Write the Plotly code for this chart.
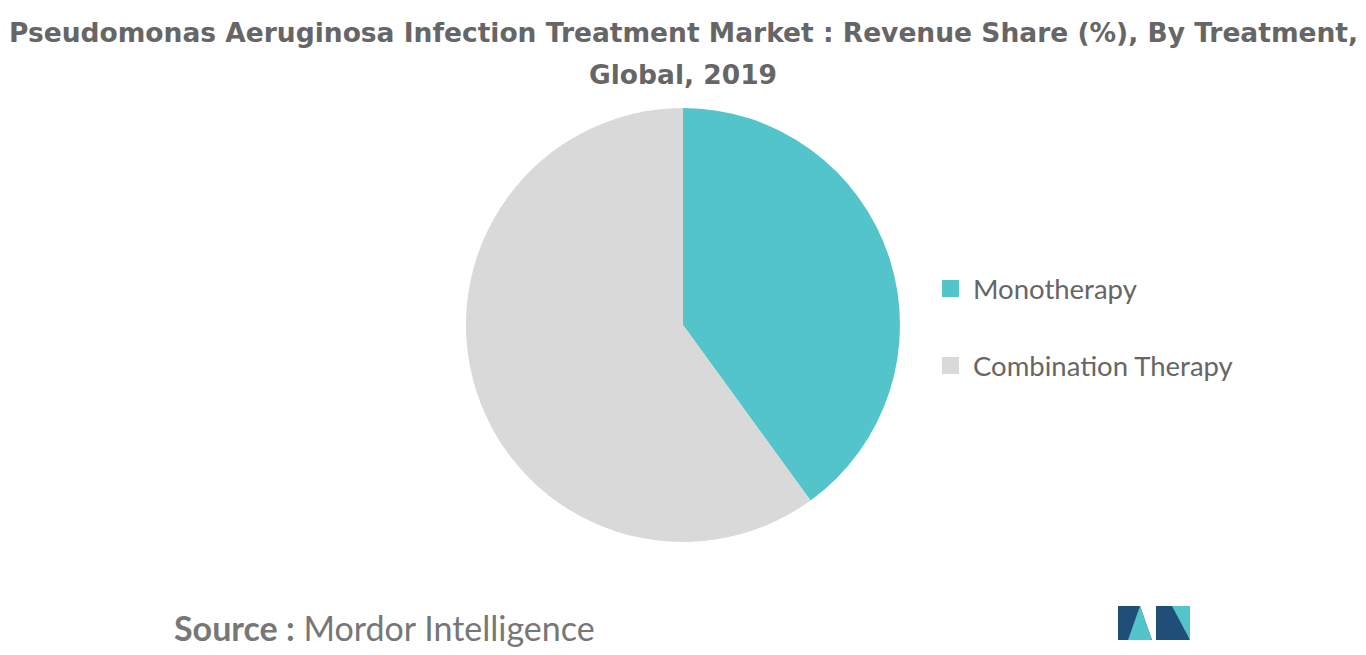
import plotly.graph_objects as go

categories = ["Monotherapy", "Combination Therapy"]
values = [40, 60]
colors = ["#53C4CA", "#D9D9D9"]

W, H = 1366, 655
OFF = 8
def px(x): return (x - OFF) / W
def py(y): return 1 - (y - OFF) / H

fig = go.Figure(go.Pie(
    labels=categories, values=values, sort=False, direction="clockwise", rotation=0,
    marker=dict(colors=colors), textinfo="none", hoverinfo="label+percent",
    domain=dict(x=[px(466), px(900)], y=[py(542), py(108)]), showlegend=False))

ann = [
    dict(x=px(683), y=py(33), text="<b>Pseudomonas Aeruginosa Infection Treatment Market : Revenue Share (%), By Treatment,</b>",
         font=dict(size=26.5, color="#666666", family="DejaVu Sans"), showarrow=False, xanchor="center", yanchor="middle"),
    dict(x=px(683), y=py(75), text="<b>Global, 2019</b>",
         font=dict(size=26.5, color="#666666", family="DejaVu Sans"), showarrow=False, xanchor="center", yanchor="middle"),
    dict(x=px(172), y=py(627), text="<b>Source :</b> Mordor Intelligence", font=dict(size=34, color="#777777", family="Lato"),
         showarrow=False, xanchor="left", yanchor="middle"),
]
shapes = []
for i, (c, col) in enumerate(zip(categories, colors)):
    yc = 288 + i * 77
    shapes.append(dict(type="rect", xref="paper", yref="paper", x0=px(942), x1=px(959), y0=py(yc+9), y1=py(yc-8),
                       fillcolor=col, line=dict(width=0)))
    ann.append(dict(x=px(971), y=py(yc), text=c, font=dict(size=27.5, color="#666666", family="Lato"),
                    showarrow=False, xanchor="left", yanchor="middle"))

def path(pts):
    return "M " + " L ".join(f"{px(x)},{py(y)}" for x, y in pts) + " Z"
shapes += [
    dict(type="path", xref="paper", yref="paper", path=path([(1118,640),(1118,606),(1140,606),(1152,640)]), fillcolor="#1F4E79", line=dict(width=0)),
    dict(type="path", xref="paper", yref="paper", path=path([(1128,640),(1140,606),(1152,640)]), fillcolor="#53C4CA", line=dict(width=0)),
    dict(type="path", xref="paper", yref="paper", path=path([(1156,640),(1156,606),(1178,606),(1190,640)]), fillcolor="#1F4E79", line=dict(width=0)),
    dict(type="path", xref="paper", yref="paper", path=path([(1172,606),(1190,606),(1190,640)]), fillcolor="#53C4CA", line=dict(width=0)),
]

fig.update_layout(width=W, height=H, margin=dict(l=0, r=0, t=0, b=0), paper_bgcolor="white",
                  annotations=ann, shapes=shapes, font=dict(family="Lato"))
fig.write_html("out.html")
